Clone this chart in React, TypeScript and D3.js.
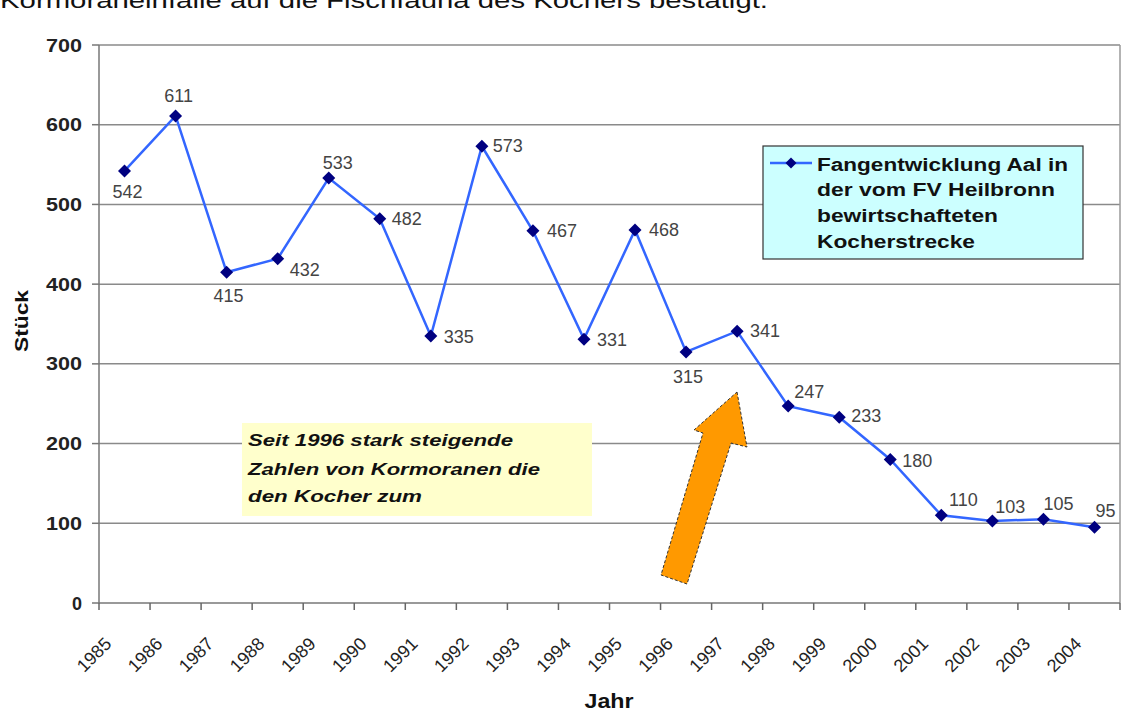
import React from "react";
import * as d3 from "d3";

const years = ["1985","1986","1987","1988","1989","1990","1991","1992","1993","1994","1995","1996","1997","1998","1999","2000","2001","2002","2003","2004"];
const catches = [542, 611, 415, 432, 533, 482, 335, 573, 467, 331, 468, 315, 341, 247, 233, 180, 110, 103, 105, 95];
const yTicks = [0, 100, 200, 300, 400, 500, 600, 700];
const legendLines = ["Fangentwicklung Aal in", "der vom FV Heilbronn", "bewirtschafteten", "Kocherstrecke"];
const noteLines = ["Seit 1996 stark steigende", "Zahlen von Kormoranen die", "den Kocher zum"];
const headline = "Kormoraneinfälle auf die Fischfauna des Kochers bestätigt.";
// label placement relative to each point (dx, dy)
const labelOffsets: [number, number][] = [
  [3, 27], [3, -14], [2, 30], [27, 17], [9, -9], [27, 6], [28, 7], [26, 6], [29, 6], [28, 7],
  [29, 6], [2, 31], [28, 6], [21, -8], [27, 5], [27, 7], [22, -9], [18, -8], [15, -9], [11, -10],
];
// rendered widths of the stretched texts in the picture
const legendWidths = [251, 238, 181, 158];
const noteWidths = [265, 292, 174];

const W = 1123, H = 712;
const left = 99, right = 1120, top = 45, bottom = 603;
const font = "Liberation Sans, Arial, sans-serif";

export default function App() {
  const x = d3.scaleBand<string>().domain(years).range([left, right]).paddingInner(0).paddingOuter(0);
  const y = d3.scaleLinear().domain([0, 700]).range([bottom, top]);
  const cx = (i: number) => (x(years[i]) as number) + x.bandwidth() / 2;
  const line = d3.line<number>().x((_, i) => cx(i)).y((d) => y(d));
  const diamond = (px: number, py: number, r = 6.5) => `M${px},${py - r}L${px + r},${py}L${px},${py + r}L${px - r},${py}Z`;
  const tickXs = years.map((yr) => x(yr) as number).concat([right]);
  const arrow = "M737,392 L747,447 L731,443 L687,584 L661,575 L703,433 L694,430 Z";

  return (
    <svg width={W} height={H} style={{ position: "absolute", left: 0, top: 0, background: "#fff" }} fontFamily={font}>
      <rect x={0} y={0} width={W} height={H} fill="#fff" />
      <text x={0} y={8} fontSize={22} fill="#111" textLength={768} lengthAdjust="spacingAndGlyphs">{headline}</text>

      {/* gridlines */}
      {yTicks.filter((t) => t > 0).map((t) => (
        <line key={t} x1={left} x2={right} y1={y(t)} y2={y(t)} stroke="#8a8a8a" strokeWidth={1.5} />
      ))}
      <line x1={right} x2={right} y1={top} y2={bottom} stroke="#9a9a9a" strokeWidth={1.5} />

      {/* axes */}
      <line x1={left} x2={left} y1={top} y2={bottom} stroke="#777" strokeWidth={1.5} />
      <line x1={left} x2={right} y1={bottom} y2={bottom} stroke="#777" strokeWidth={1.5} />
      {yTicks.map((t) => (
        <g key={t}>
          <line x1={left - 7} x2={left} y1={y(t)} y2={y(t)} stroke="#777" strokeWidth={1.5} />
          <text x={82} y={y(t) + 6.5} textAnchor="end" fontSize={18} fontWeight="bold" fill="#222"
            textLength={t > 0 ? 36 : undefined} lengthAdjust="spacingAndGlyphs">{t}</text>
        </g>
      ))}
      {tickXs.map((tx, i) => (
        <line key={i} x1={tx} x2={tx} y1={bottom} y2={bottom + 7} stroke="#666" strokeWidth={1.5} />
      ))}
      {years.map((yr, i) => (
        <text key={yr} transform={`translate(${cx(i) - 12},${645}) rotate(-45)`} textAnchor="end" fontSize={18} fill="#222">{yr}</text>
      ))}
      <text x={609} y={708} textAnchor="middle" fontSize={20} fontWeight="bold" fill="#111" textLength={49} lengthAdjust="spacingAndGlyphs">Jahr</text>
      <text transform={`translate(28,321) rotate(-90)`} textAnchor="middle" fontSize={19} fontWeight="bold" fill="#111" textLength={62} lengthAdjust="spacingAndGlyphs">Stück</text>

      {/* annotation box */}
      <rect x={242} y={423} width={350} height={93} fill="#ffffcc" />
      {noteLines.map((l, i) => (
        <text key={i} x={248} y={[446, 475, 502][i]} fontSize={17} fontWeight="bold" fontStyle="italic" fill="#111" textLength={noteWidths[i]} lengthAdjust="spacingAndGlyphs">{l}</text>
      ))}

      {/* arrow */}
      <path d={arrow} fill="#ff9900" stroke="#333" strokeWidth={1} strokeDasharray="3,2" />

      {/* series */}
      <path d={line(catches) || ""} fill="none" stroke="#3366ff" strokeWidth={2.5} />
      {catches.map((v, i) => (
        <path key={i} d={diamond(cx(i), y(v))} fill="#000080" />
      ))}
      {catches.map((v, i) => (
        <text key={i} x={cx(i) + labelOffsets[i][0]} y={y(v) + labelOffsets[i][1]} textAnchor="middle" fontSize={18} fill="#444">{v}</text>
      ))}

      {/* legend */}
      <rect x={763} y={146} width={320} height={113} fill="#ccffff" stroke="#333" strokeWidth={1.2} />
      <line x1={770} x2={812} y1={163} y2={163} stroke="#3366ff" strokeWidth={2.5} />
      <path d={diamond(791, 163, 5.5)} fill="#000080" />
      {legendLines.map((l, i) => (
        <text key={i} x={817} y={[171, 196, 222, 248][i]} fontSize={18} fontWeight="bold" fill="#111" textLength={legendWidths[i]} lengthAdjust="spacingAndGlyphs">{l}</text>
      ))}
    </svg>
  );
}
